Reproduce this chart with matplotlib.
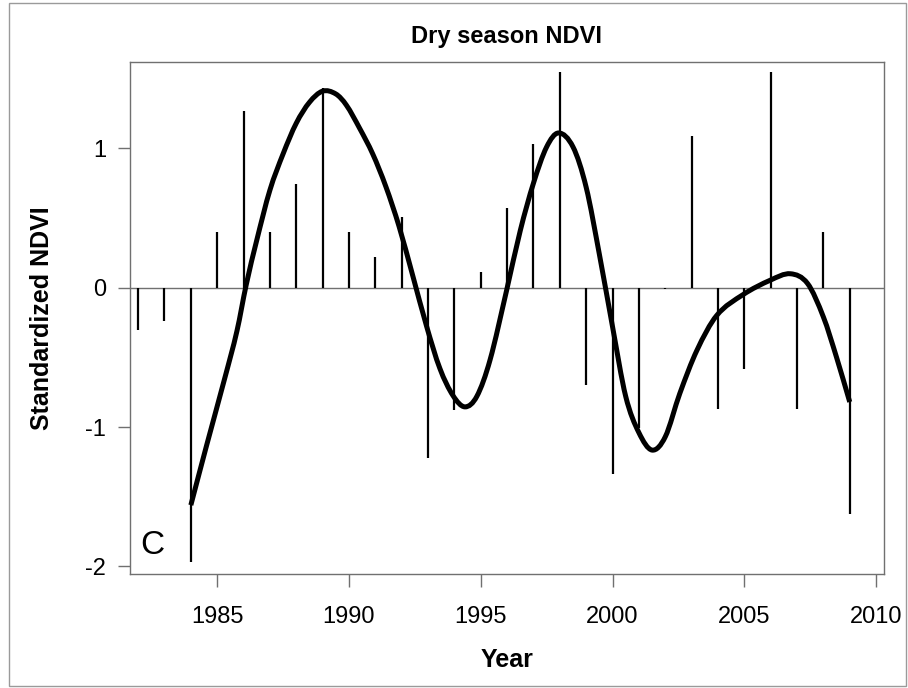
import matplotlib
matplotlib.use("Agg")
import matplotlib.pyplot as plt
from matplotlib.patches import Rectangle, PathPatch
from matplotlib.path import Path

# ---- data ----
years = list(range(1982, 2010))
ndvi = [-0.30, -0.24, -1.97, 0.40, 1.265, 0.40, 0.745, 1.435, 0.40, 0.22,
        0.51, -1.22, -0.875, 0.11, 0.57, 1.03, 1.55, -0.70, -1.335, -1.01,
        -0.01, 1.09, -0.87, -0.585, 1.55, -0.87, 0.40, -1.625]

smooth_year = [1984.0, 1984.6, 1985.3, 1985.75, 1986.1, 1986.5, 1987.0, 1987.5,
               1988.0, 1988.5, 1989.0, 1989.5, 1989.9, 1990.4, 1990.9, 1991.4,
               1991.9, 1992.4, 1992.95, 1993.45, 1993.95, 1994.4, 1994.85,
               1995.35, 1995.98, 1996.5, 1997.0, 1997.5, 1997.95, 1998.5,
               1999.0, 1999.5, 2000.0, 2000.5, 2001.0, 2001.5, 2002.0,
               2002.55, 2003.2, 2003.95, 2004.95, 2006.0, 2006.75, 2007.4,
               2008.0, 2008.5, 2009.0]
smooth_val = [-1.56, -1.13, -0.64, -0.31, 0.02, 0.34, 0.70, 0.96,
              1.18, 1.33, 1.41, 1.39, 1.31, 1.145, 0.96, 0.725,
              0.44, 0.10, -0.28, -0.58, -0.775, -0.855, -0.78,
              -0.52, -0.02, 0.41, 0.75, 1.01, 1.11, 1.01,
              0.72, 0.24, -0.28, -0.78, -1.04, -1.165, -1.07,
              -0.76, -0.45, -0.20, -0.05, 0.055, 0.10, 0.03,
              -0.21, -0.50, -0.82]

xticks = [1985, 1990, 1995, 2000, 2005, 2010]
yticks = [-2, -1, 0, 1]

title = "Dry season NDVI"
xlabel = "Year"
ylabel = "Standardized NDVI"
panel = "C"

plt.rcParams['font.family'] = ['Liberation Sans', 'DejaVu Sans']

W, H = 908, 688
fig = plt.figure(figsize=(W / 100, H / 100), dpi=100)
fig.patch.set_facecolor('white')

# figure border
fig.patches.append(Rectangle((9 / W, 2 / H), 897 / W, 683 / H,
                             transform=fig.transFigure, fill=False,
                             edgecolor='#9a9a9a', lw=1.0))

ax_l, ax_r, ax_t, ax_b = 129.7, 884.0, 62.3, 574.0
ax = fig.add_axes([ax_l / W, 1 - ax_b / H, (ax_r - ax_l) / W, (ax_b - ax_t) / H])

ax.axhline(0, color='#707070', lw=1.0, zorder=1)
ax.vlines(years, 0, ndvi, colors='black', lw=1.6, zorder=2)

# smooth curve through the read points: cubic Hermite segments as Bezier paths
xs, ys = smooth_year, smooth_val
n = len(xs)
slopes = []
for i in range(n):
    a = max(i - 1, 0)
    b = min(i + 1, n - 1)
    slopes.append((ys[b] - ys[a]) / (xs[b] - xs[a]))
verts = [(xs[0], ys[0])]
codes = [Path.MOVETO]
for i in range(n - 1):
    h = xs[i + 1] - xs[i]
    verts += [(xs[i] + h / 3, ys[i] + slopes[i] * h / 3),
              (xs[i + 1] - h / 3, ys[i + 1] - slopes[i + 1] * h / 3),
              (xs[i + 1], ys[i + 1])]
    codes += [Path.CURVE4] * 3
ax.add_patch(PathPatch(Path(verts, codes), facecolor='none', edgecolor='black',
                       lw=3.6, joinstyle='round', capstyle='butt', zorder=3))

ax.set_xlim(1981.68, 2010.3)
ax.set_ylim(-2.054, 1.617)
ax.set_xticks(xticks)
ax.set_yticks(yticks)
ax.set_xticklabels([str(t) for t in xticks])
ax.set_yticklabels([str(t) for t in yticks])

for s in ax.spines.values():
    s.set_color('#707070')
    s.set_linewidth(1.0)

ax.tick_params(axis='x', direction='out', length=9, width=1.0, color='#707070',
               labelsize=17, pad=14)
ax.tick_params(axis='y', direction='out', length=9, width=1.0, color='#707070',
               labelsize=17, pad=8)

fig.text((ax_l + ax_r) / 2 / W, 1 - 37 / H, title, ha='center', va='center',
         fontsize=17, fontweight='bold')
fig.text((ax_l + ax_r) / 2 / W, 1 - 660 / H, xlabel, ha='center', va='center',
         fontsize=18, fontweight='bold')
fig.text(42 / W, 1 - 318 / H, ylabel, ha='center', va='center', rotation=90,
         fontsize=18, fontweight='bold')
ax.text((152 - ax_l) / (ax_r - ax_l), (ax_b - 545) / (ax_b - ax_t), panel,
        transform=ax.transAxes, fontsize=24, ha='center', va='center')

fig.savefig('out.png', dpi=100)
